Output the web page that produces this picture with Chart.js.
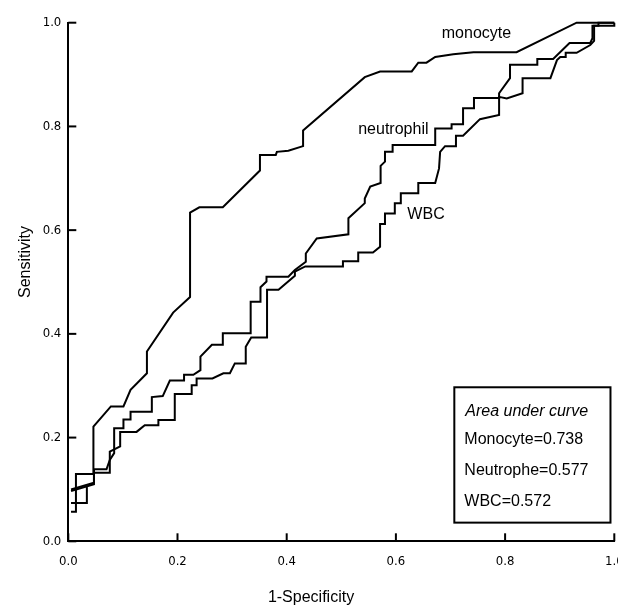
<!DOCTYPE html>
<html>
<head>
<meta charset="utf-8">
<script src="https://cdn.jsdelivr.net/npm/chart.js@4/dist/chart.umd.min.js"></script>
<style>
  html, body { margin: 0; padding: 0; background: #fff; }
  #chart { display: block; }
</style>
</head>
<body>
<canvas id="chart" width="618" height="607"></canvas>
<script>
// ROC curves (1-specificity, sensitivity)
const monocyteX = [0.005, 0.014, 0.014, 0.046, 0.046, 0.078, 0.101, 0.114, 0.144, 0.144, 0.192, 0.223, 0.223, 0.240, 0.283, 0.351, 0.351, 0.380, 0.382, 0.403, 0.430, 0.430, 0.543, 0.571, 0.629, 0.641, 0.656, 0.672, 0.705, 0.742, 0.821, 0.931, 1.0];
const monocyteY = [0.057, 0.057, 0.130, 0.130, 0.221, 0.260, 0.260, 0.292, 0.324, 0.366, 0.441, 0.471, 0.634, 0.644, 0.644, 0.715, 0.745, 0.745, 0.751, 0.753, 0.762, 0.792, 0.895, 0.906, 0.906, 0.923, 0.923, 0.934, 0.939, 0.943, 0.943, 1.0, 1.0];

const neutrophilX = [0.005, 0.047, 0.047, 0.070, 0.076, 0.084, 0.084, 0.101, 0.101, 0.114, 0.114, 0.153, 0.153, 0.173, 0.186, 0.212, 0.212, 0.229, 0.242, 0.242, 0.263, 0.283, 0.283, 0.334, 0.334, 0.352, 0.352, 0.363, 0.363, 0.403, 0.415, 0.435, 0.435, 0.455, 0.513, 0.513, 0.543, 0.543, 0.553, 0.572, 0.572, 0.580, 0.580, 0.594, 0.594, 0.672, 0.672, 0.702, 0.702, 0.723, 0.723, 0.743, 0.743, 0.789, 0.789, 0.809, 0.809, 0.859, 0.859, 0.888, 0.918, 0.956, 0.960, 0.960, 1.0, 1.0];
const neutrophilY = [0.100, 0.113, 0.139, 0.139, 0.157, 0.170, 0.218, 0.218, 0.235, 0.235, 0.250, 0.250, 0.278, 0.280, 0.310, 0.310, 0.321, 0.321, 0.330, 0.356, 0.379, 0.379, 0.401, 0.401, 0.462, 0.462, 0.490, 0.501, 0.510, 0.510, 0.523, 0.539, 0.555, 0.584, 0.592, 0.623, 0.652, 0.661, 0.684, 0.691, 0.724, 0.732, 0.751, 0.751, 0.764, 0.764, 0.796, 0.796, 0.804, 0.804, 0.835, 0.835, 0.855, 0.855, 0.864, 0.893, 0.919, 0.919, 0.930, 0.930, 0.961, 0.961, 0.970, 0.994, 0.994, 1.0];

const wbcX = [0.005, 0.034, 0.034, 0.005, 0.047, 0.047, 0.076, 0.076, 0.095, 0.095, 0.125, 0.140, 0.165, 0.165, 0.195, 0.195, 0.226, 0.226, 0.235, 0.235, 0.264, 0.284, 0.296, 0.305, 0.325, 0.325, 0.335, 0.364, 0.364, 0.385, 0.415, 0.415, 0.434, 0.503, 0.503, 0.531, 0.531, 0.558, 0.571, 0.571, 0.580, 0.580, 0.598, 0.598, 0.609, 0.609, 0.641, 0.641, 0.672, 0.679, 0.681, 0.690, 0.710, 0.710, 0.723, 0.754, 0.789, 0.789, 0.803, 0.832, 0.832, 0.883, 0.895, 0.901, 0.911, 0.911, 0.931, 0.956, 0.963, 0.963, 0.971, 0.971, 1.0];
const wbcY = [0.074, 0.074, 0.106, 0.097, 0.110, 0.132, 0.132, 0.173, 0.183, 0.211, 0.211, 0.224, 0.224, 0.234, 0.234, 0.284, 0.284, 0.301, 0.301, 0.314, 0.314, 0.324, 0.324, 0.343, 0.343, 0.375, 0.393, 0.393, 0.485, 0.485, 0.512, 0.520, 0.530, 0.530, 0.540, 0.540, 0.557, 0.557, 0.568, 0.612, 0.612, 0.632, 0.632, 0.652, 0.652, 0.671, 0.671, 0.691, 0.691, 0.719, 0.751, 0.762, 0.762, 0.782, 0.782, 0.814, 0.822, 0.857, 0.854, 0.864, 0.893, 0.893, 0.928, 0.934, 0.934, 0.942, 0.942, 0.957, 0.965, 0.994, 0.994, 1.0, 1.0];

const curveNames = ['monocyte', 'neutrophil', 'WBC'];
const aucNames = ['Monocyte', 'Neutrophe', 'WBC'];
const aucValues = [0.738, 0.577, 0.572];
const tickValues = [0, 0.2, 0.4, 0.6, 0.8, 1.0];

const FONT = '"Liberation Sans", Arial, sans-serif';
const NARROW = '"Liberation Sans Narrow", "DejaVu Sans Condensed", sans-serif';

function toPoints(xs, ys) {
  return xs.map((x, i) => ({ x, y: ys[i] }));
}

function curve(label, xs, ys) {
  return {
    label,
    data: toPoints(xs, ys),
    borderColor: '#000',
    borderWidth: 2,
    pointRadius: 0,
    tension: 0,
    fill: false,
    clip: false
  };
}

/* ======================
   EXTRA DRAWING
   inward ticks, curve labels, AUC box, axis titles
====================== */
const decorations = {
  id: 'decorations',
  afterDraw(chart) {
    const { ctx, chartArea } = chart;
    const xs = chart.scales.x, ys = chart.scales.y;
    ctx.save();
    ctx.strokeStyle = '#000';
    ctx.fillStyle = '#000';
    ctx.lineWidth = 2;

    tickValues.forEach(v => {
      const py = ys.getPixelForValue(v);
      ctx.beginPath();
      ctx.moveTo(chartArea.left, py);
      ctx.lineTo(chartArea.left + 8, py);
      ctx.stroke();
      const px = xs.getPixelForValue(v);
      ctx.beginPath();
      ctx.moveTo(px, chartArea.bottom);
      ctx.lineTo(px, chartArea.bottom - 8);
      ctx.stroke();
    });

    // labels next to the curves
    ctx.font = '16px ' + FONT;
    ctx.textBaseline = 'alphabetic';
    ctx.textAlign = 'left';
    const labelAt = [[0.684, 0.971], [0.531, 0.785], [0.621, 0.622]];
    curveNames.forEach((name, i) => {
      ctx.fillText(name, xs.getPixelForValue(labelAt[i][0]), ys.getPixelForValue(labelAt[i][1]));
    });

    // area under curve box
    const bx0 = xs.getPixelForValue(0.707), bx1 = xs.getPixelForValue(0.993);
    const by0 = ys.getPixelForValue(0.297), by1 = ys.getPixelForValue(0.036);
    ctx.fillStyle = '#fff';
    ctx.fillRect(bx0, by0, bx1 - bx0, by1 - by0);
    ctx.strokeRect(bx0, by0, bx1 - bx0, by1 - by0);
    ctx.fillStyle = '#000';
    ctx.font = 'italic 16px ' + FONT;
    ctx.fillText('Area under curve', bx0 + 11, by0 + 28.5);
    ctx.font = '16px ' + FONT;
    aucNames.forEach((n, i) => {
      ctx.fillText(n + '=' + aucValues[i].toFixed(3), bx0 + 10, by0 + 57 + i * 31);
    });

    // axis titles
    ctx.textAlign = 'center';
    ctx.fillText('1-Specificity', 311, 602);
    ctx.translate(30, 262);
    ctx.rotate(-Math.PI / 2);
    ctx.fillText('Sensitivity', 0, 0);
    ctx.restore();
  }
};

const tickFont = { family: NARROW, size: 13 };

new Chart(document.getElementById('chart'), {
  type: 'line',
  data: {
    datasets: [
      curve('monocyte', monocyteX, monocyteY),
      curve('neutrophil', neutrophilX, neutrophilY),
      curve('WBC', wbcX, wbcY)
    ]
  },
  options: {
    responsive: false,
    animation: false,
    layout: { padding: { top: 22.7, right: 3.7, left: 0, bottom: 0 } },
    plugins: {
      legend: { display: false },
      tooltip: { enabled: false }
    },
    scales: {
      x: {
        type: 'linear',
        min: 0,
        max: 1,
        grid: { display: false, drawTicks: false },
        border: { display: true, color: '#000', width: 2 },
        ticks: {
          stepSize: 0.2,
          color: '#000',
          font: tickFont,
          padding: 13,
          maxRotation: 0,
          callback: v => v.toFixed(1)
        },
        afterFit: s => {
          s.height = 607 - 541.3;
          s.paddingLeft = 0;
          s.paddingRight = 0;
        }
      },
      y: {
        type: 'linear',
        min: 0,
        max: 1,
        grid: { display: false, drawTicks: false },
        border: { display: true, color: '#000', width: 2 },
        ticks: {
          stepSize: 0.2,
          color: '#000',
          font: tickFont,
          padding: 7,
          callback: v => v.toFixed(1)
        },
        afterFit: s => {
          s.width = 68.3;
          s.paddingTop = 0;
          s.paddingBottom = 0;
        }
      }
    }
  },
  plugins: [decorations]
});
</script>
</body>
</html>
